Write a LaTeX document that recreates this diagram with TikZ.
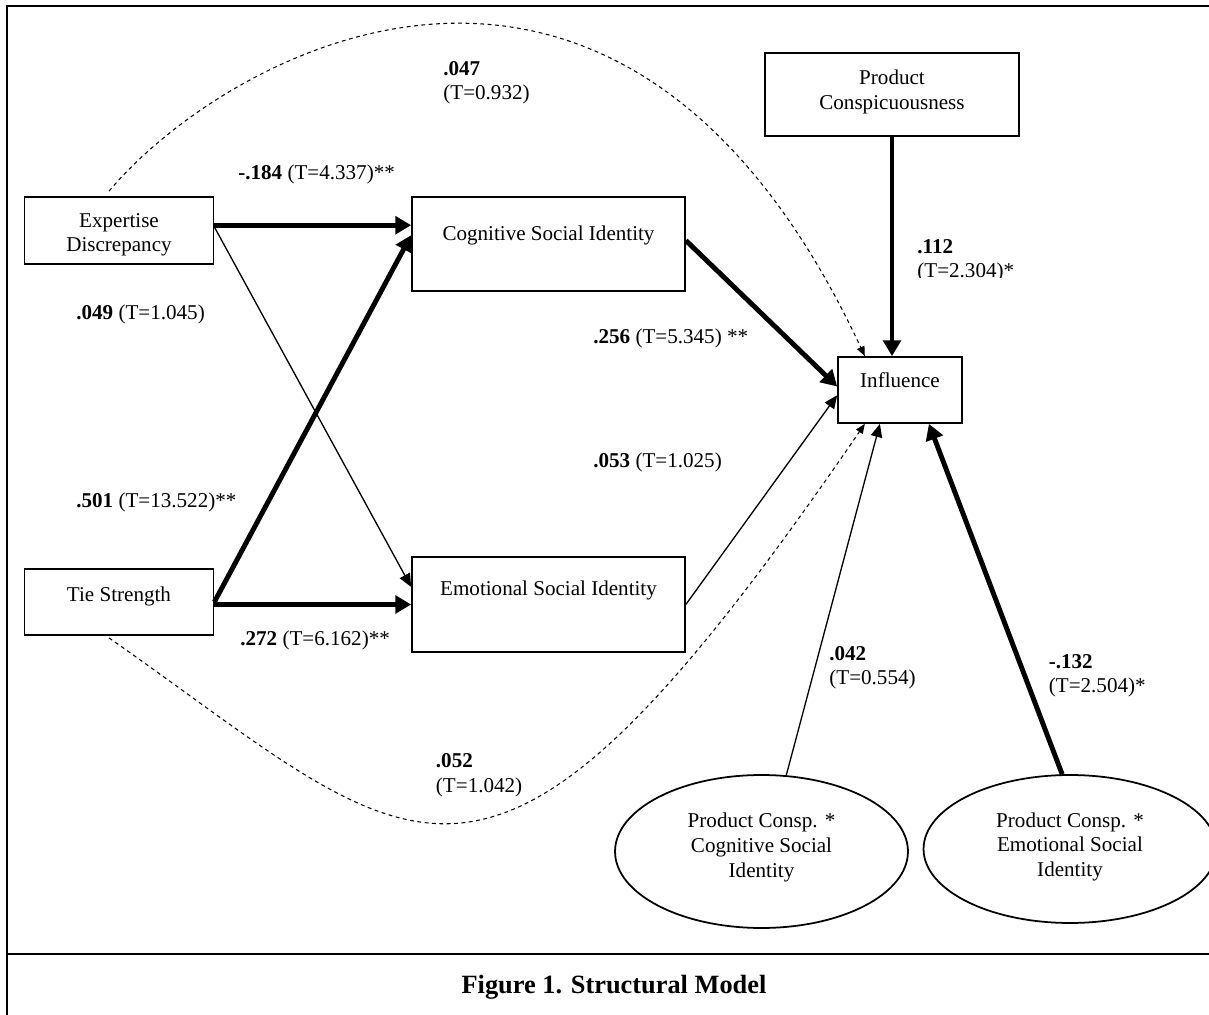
\documentclass[tikz,border=0pt]{standalone}
\usepackage{fontspec}
\setmainfont{Liberation Serif}
\usepackage{tikz}
\usetikzlibrary{arrows.meta,calc,shapes.geometric}
\tikzset{
  box/.style={draw, line width=1pt, align=center, inner sep=0pt},
  oval/.style={draw, ellipse, line width=1pt, align=center, inner sep=0pt, minimum width=5.86cm},
  thk/.style={line width=2.8pt, -{Triangle[length=9pt, width=10pt]}},
  thn/.style={line width=0.75pt, -{Triangle[length=7.5pt, width=6.5pt]}},
  dsh/.style={line width=0.6pt, dash pattern=on 2.2pt off 2pt, -{Triangle[length=5.5pt, width=4.5pt]}},
  lbl/.style={anchor=base west, inner sep=0pt, align=left},
  every node/.style={font=\fontsize{12}{14}\selectfont}
}

\begin{document}
\begin{tikzpicture}[x=0.02cm, y=0.02cm]
  \useasboundingbox (0,0) rectangle (1209,1014);
  \clip (0,0) rectangle (1209,1014);
  \draw[line width=1.4pt] (7,-20) rectangle (1230,1008);
  \draw[line width=1.6pt] (7,60) -- (1230,60);

  \node[box, minimum width=3.78cm, minimum height=1.34cm, text height=27pt, text depth=2.6pt] (expd) at (119,783.5) {Expertise\\Discrepancy};
  \node[box, minimum width=3.78cm, minimum height=1.32cm, text height=8.5pt, text depth=9.6pt] (tie) at (119,412) {Tie Strength};
  \node[box, minimum width=5.46cm, minimum height=1.88cm, text height=8.5pt, text depth=12.3pt] (cog) at (548.5,770) {Cognitive Social Identity};
  \node[box, minimum width=5.46cm, minimum height=1.9cm, text height=8.5pt, text depth=19.3pt] (emo) at (548.5,409.5) {Emotional Social Identity};
  \node[box, minimum width=2.48cm, minimum height=1.32cm, text height=8.5pt, text depth=11.1pt] (infl) at (900,624) {Influence};
  \node[box, minimum width=5.08cm, minimum height=1.66cm, text depth=5.4pt] (pcon) at (892,919.5) {Product\\Conspicuousness};
  \node[oval, minimum height=3.06cm, text depth=7.2pt] (ell1) at (761.5,162.5) {Product Consp. *\\ Cognitive Social\\Identity};
  \node[oval, minimum height=2.96cm, text depth=5pt] (ell2) at (1070,165) {Product Consp. *\\ Emotional Social\\Identity};

  \coordinate (a1) at ([yshift=3pt]expd.east);
  \draw[thk] (a1) -- (a1 -| cog.west);
  \draw[thk] (tie.east) -- ([yshift=5pt]cog.west);
  \draw[thn] ([yshift=2pt]expd.east) -- ([yshift=10pt]emo.west);
  \draw[thk] (tie.east |- emo.west) -- (emo.west);
  \draw[thk] ([yshift=2pt]cog.east) -- ([yshift=2pt]infl.west);
  \draw[thn] (emo.east) -- ([yshift=-3pt]infl.west);
  \draw[thk] (pcon.south) -- (pcon.south |- infl.north);
  \draw[thn] (ell1.72) -- ($(infl.south west)!0.34!(infl.south east)$);
  \draw[thk] (ell2.96) -- ($(infl.south west)!0.73!(infl.south east)$);
  \draw[dsh] ($(expd.north)+(-10,5)$) .. controls +(50:181) and +(115:579) .. ($(infl.north west)!0.22!(infl.north east)$);
  \draw[dsh] ($(tie.south)+(-10,-2)$) .. controls +(-35:385) and +(235.6:673) .. ($(infl.south west)!0.22!(infl.south east)$);

  \node[lbl] (l047) at (443,914) {\textbf{.047}\\(T=0.932)};
  \node[lbl] (l184) at (238,834) {\textbf{-.184} (T=4.337)**};
  \node[lbl] (l049) at (76,694) {\textbf{.049} (T=1.045)};
  \node[lbl] (l501) at (76,506) {\textbf{.501} (T=13.522)**};
  \node[lbl] (l272) at (240,368) {\textbf{.272} (T=6.162)**};
  \node[lbl] (l256) at (593,670) {\textbf{.256} (T=5.345) **};
  \node[lbl] (l053) at (593,546) {\textbf{.053} (T=1.025)};
  \begin{scope}
    \clip (900,736.5) rectangle (1040,800);
    \node[lbl] (l112) at (917,736) {\textbf{.112}\\(T=2.304)*};
  \end{scope}
  \node[lbl] (l042) at (829,329) {\textbf{.042}\\(T=0.554)};
  \node[lbl] (l132) at (1048.5,321) {\textbf{-.132}\\(T=2.504)*};
  \node[lbl] (l052) at (435.6,222) {\textbf{.052}\\(T=1.042)};

  \node[anchor=base, font=\fontsize{15}{18}\selectfont\bfseries] (capt) at (614,21) {Figure 1. Structural Model};
\end{tikzpicture}
\end{document}
